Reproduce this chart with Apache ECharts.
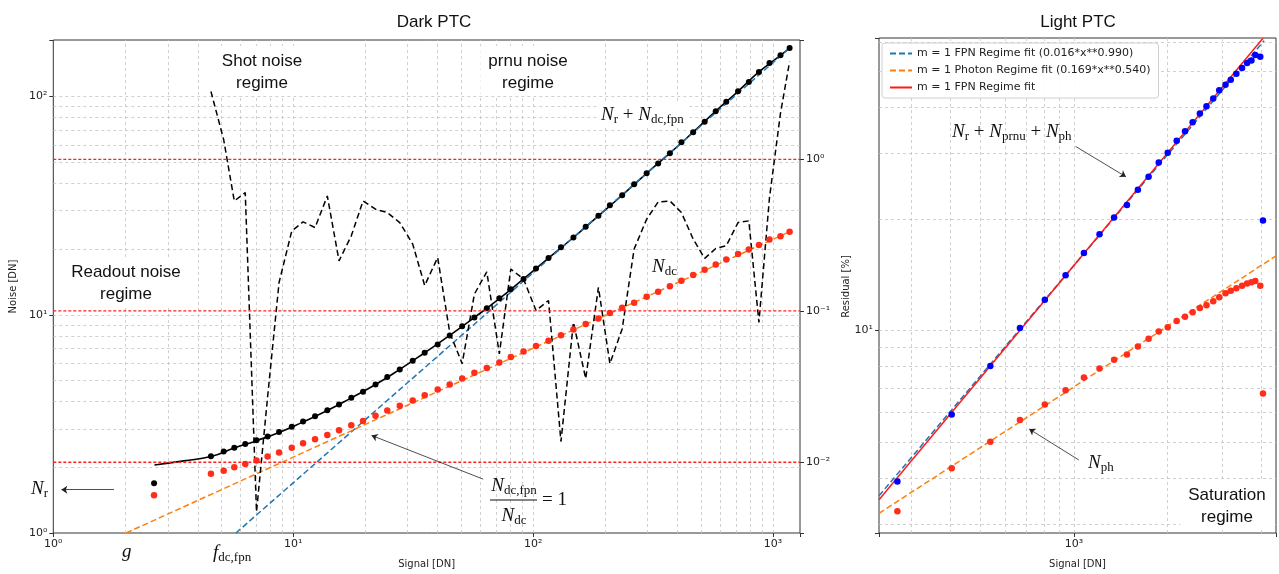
<!DOCTYPE html>
<html>
<head>
<meta charset="utf-8">
<script src="https://cdn.jsdelivr.net/npm/echarts@6/dist/echarts.min.js"></script>
<style>
html, body { margin: 0; padding: 0; background: #fff; }
#chart { width: 1279px; height: 574px; }
</style>
</head>
<body>
<div id="chart"></div>
<script>
// Dark PTC: signal steps and the noise
var darkSignal = [4.54, 5.13, 5.68, 6.31, 7.03, 7.82, 8.73, 9.86, 10.99, 12.33, 13.87, 15.52, 17.46, 19.54, 22.03, 24.66, 27.8, 31.48, 35.32, 40.0,
	44.9, 50.6, 56.9, 64.1, 72.3, 80.7, 91.2, 102.8, 115.9, 130.6, 147.2, 165.6, 187.1, 208.9, 235.0, 263.6, 297.2, 331.9, 371.5, 415.0,
	464.5, 518.8, 576.8, 638.3, 714.5, 792.5, 873.0, 966.1, 1074, 1172];
var darkNoise = [2.25, 2.36, 2.46, 2.56, 2.66, 2.77, 2.90, 3.07, 3.24, 3.43, 3.65, 3.88, 4.17, 4.44, 4.79, 5.18, 5.62, 6.15, 6.70, 7.31,
	8.04, 8.85, 9.72, 10.7, 11.9, 13.1, 14.6, 16.3, 18.2, 20.4, 22.6, 25.3, 28.4, 31.8, 35.3, 39.6, 44.5, 49.3, 55.0, 61.8,
	68.7, 76.6, 85.7, 94.6, 105.7, 116.7, 129.7, 142.6, 154.5, 166.8];
var darkDcNoise = [1.87, 1.93, 2.00, 2.07, 2.15, 2.24, 2.34, 2.46, 2.58, 2.69, 2.81, 2.96, 3.12, 3.26, 3.45, 3.64, 3.83, 4.05, 4.28, 4.54,
	4.79, 5.10, 5.42, 5.71, 6.04, 6.41, 6.78, 7.20, 7.61, 8.05, 8.55, 9.07, 9.62, 10.18, 10.77, 11.35, 12.1, 12.75, 13.5, 14.3,
	15.2, 16.1, 17.0, 17.9, 19.0, 19.9, 20.9, 22.1, 22.9, 24.0];
var darkResidual = [2.81, 1.35, 0.532, 0.604, 0.0047, 0.027, 0.154, 0.337, 0.387, 0.355, 0.574, 0.214, 0.313, 0.532, 0.469, 0.446, 0.383, 0.276, 0.147, 0.225,
	0.072, 0.0448, 0.129, 0.181, 0.052, 0.189, 0.162, 0.1005, 0.117, 0.0137, 0.084, 0.0357, 0.143, 0.0448, 0.076, 0.256, 0.403, 0.524, 0.532, 0.446,
	0.298, 0.222, 0.258, 0.269, 0.383, 0.393, 0.084, 0.558, 2.02, 4.43];
var readoutSignal = 2.63, readoutNoise = 1.69, readoutDcNoise = 1.49;

var darkFitX = [2.64, 3.5, 4.54, 5.68, 7.03, 8.73, 10.99, 13.87, 17.46, 22.03, 27.8, 35.32, 44.9, 56.9, 72.3, 91.2, 115.9, 147.2, 187.1, 235, 297.2, 371.5, 464.5, 576.8, 714.5, 873, 1074, 1172];
var darkFitY = [2.05, 2.14, 2.24, 2.45, 2.65, 2.89, 3.23, 3.64, 4.16, 4.79, 5.62, 6.70, 8.04, 9.72, 11.85, 14.6, 18.2, 22.6, 28.4, 35.3, 44.5, 55.0, 68.7, 85.7, 105.7, 129.7, 154.5, 166.8];
var fpnFitX = [5.77, 1172];
var fpnFitY = [1.0, 166.8];
var dcFitX = [2.01, 1172];
var dcFitY = [1.0, 24.0];
var residualLevels = [1, 0.1, 0.01];
var darkXRange = [1, 1295];

// Light PTC
var lightSignal = [270, 404, 538, 670, 806, 940, 1077, 1209, 1347, 1482, 1607, 1740, 1876, 2005, 2143, 2280, 2412, 2545, 2673, 2810,
	2938, 3078, 3201, 3336, 3480, 3612, 3731, 3839, 3983, 4064];
var lightTotal = [3.91, 5.93, 8.02, 10.15, 12.1, 14.1, 16.2, 18.2, 20.2, 21.8, 24.0, 26.0, 28.4, 30.2, 32.5, 34.5, 36.5, 38.5, 40.3, 42.3,
	44.5, 46.1, 47.5, 49.3, 51.1, 52.7, 53.6, 55.4, 54.8, 19.8];
var lightPhoton = [3.25, 4.25, 5.01, 5.73, 6.31, 6.90, 7.47, 7.89, 8.34, 8.62, 9.05, 9.50, 9.94, 10.2, 10.6, 10.9, 11.2, 11.5, 11.7, 12.0,
	12.3, 12.6, 12.8, 13.0, 13.2, 13.4, 13.5, 13.6, 13.2, 6.76];
var lightFpnFitX = [235.6, 4100];
var lightFpnFitY = [3.58, 60.6];
var lightPhFitX = [235.6, 4476];
var lightPhFitY = [3.21, 15.9];
var lightFitX = [235.6, 4064];
var lightFitY = [3.49, 61.5];

// grid line values (major + minor decades)
var darkXGrid = [2, 3, 4, 5, 6, 7, 8, 9, 10, 20, 30, 40, 50, 60, 70, 80, 90, 100, 200, 300, 400, 500, 600, 700, 800, 900, 1000];
var darkYGrid = [2, 3, 4, 5, 6, 7, 8, 9, 10, 20, 30, 40, 50, 60, 70, 80, 90, 100];
var lightXGrid = [300, 400, 500, 600, 700, 800, 900, 1000, 2000, 3000, 4000];
var lightYGrid = [3, 4, 5, 6, 7, 8, 9, 10, 20, 30, 40, 50, 60];

function pairs(xs, ys) {
	return xs.map(function (x, i) { return [x, ys[i]]; });
}

var supMap = { '-': '\u207b', '0': '\u2070', '1': '\u00b9', '2': '\u00b2', '3': '\u00b3' };
function sci(v) {
	var l = Math.log(v) / Math.LN10, e = Math.round(l);
	if (Math.abs(l - e) > 1e-6) return '';
	return '10' + String(e).split('').map(function (c) { return supMap[c]; }).join('');
}

var gridLine = { color: '#c4c4c4', type: [3, 3], width: 0.8 };
function gridSeries(xi, yi, xs, ys) {
	return {
		type: 'line', xAxisIndex: xi, yAxisIndex: yi, data: [[xs[0], ys[0]]], symbol: 'none', silent: true, z: 1,
		lineStyle: { opacity: 0 },
		markLine: {
			z: 1, silent: true, symbol: ['none', 'none'], label: { show: false }, lineStyle: gridLine, animation: false,
			data: xs.map(function (v) { return { xAxis: v }; }).concat(ys.map(function (v) { return { yAxis: v }; }))
		}
	};
}
function arrowSeries(xi, yi, list) {
	return {
		type: 'line', xAxisIndex: xi, yAxisIndex: yi, data: [list[0][0]], symbol: 'none', silent: true,
		lineStyle: { opacity: 0 },
		markLine: {
			z: 6, silent: true, symbol: ['none', 'arrow'], symbolSize: 6, label: { show: false }, animation: false,
			lineStyle: { color: '#222', type: 'solid', width: 0.8 },
			data: list.map(function (a) { return [{ coord: a[0] }, { coord: a[1] }]; })
		}
	};
}

var tickFont = { fontFamily: 'DejaVu Sans', fontSize: 11, color: '#222' };
var nameFont = { fontFamily: 'DejaVu Sans', fontSize: 10, color: '#222' };
function logAxis(extra) {
	var a = {
		type: 'log', logBase: 10,
		axisLine: { show: false },
		axisTick: { show: true, length: 4, lineStyle: { color: '#333' } },
		splitLine: { show: false },
		minorTick: { show: false },
		minorSplitLine: { show: false },
		axisLabel: Object.assign({ formatter: sci, margin: 6 }, tickFont),
		nameTextStyle: nameFont
	};
	return Object.assign(a, extra);
}

var mathRich = {
	n: { fontFamily: 'Liberation Serif', fontStyle: 'italic', fontSize: 19, lineHeight: 22, fill: '#111', color: '#111' },
	o: { fontFamily: 'Liberation Serif', fontSize: 19, lineHeight: 22, fill: '#111', color: '#111' },
	s: { fontFamily: 'Liberation Serif', fontSize: 13, lineHeight: 13, padding: [10, 0, 0, 0], fill: '#111', color: '#111' }
};
function mathText(x, y, text, align, bg) {
	var st = { text: text, rich: mathRich, align: align || 'left', verticalAlign: 'middle', fill: '#111' };
	if (bg) { st.backgroundColor = '#fff'; st.padding = [2, 4, 2, 4]; }
	return { type: 'text', x: x, y: y, z: 4, style: st };
}
function plainText(x, y, text, bg) {
	var st = { text: text, fontFamily: 'Liberation Sans', fontSize: 17, lineHeight: 22, fill: '#111', align: 'center', verticalAlign: 'top' };
	if (bg) { st.backgroundColor = '#fff'; st.padding = [4, 8, 2, 8]; }
	return { type: 'text', x: x, y: y, z: 4, style: st };
}

// red dotted residual reference levels, drawn as plain line series on the residual axis
var levelSeries = residualLevels.map(function (v) {
	return {
		name: 'level ' + v, type: 'line', xAxisIndex: 0, yAxisIndex: 1, symbol: 'none', silent: true, z: 5,
		lineStyle: { color: '#ff2020', type: [3, 2], width: 1.3, opacity: 1 },
		data: [[darkXRange[0], v], [darkXRange[1], v]]
	};
});

var myChart = echarts.init(document.getElementById('chart'));
var option = {
	animation: false,
	backgroundColor: '#fff',
	grid: [
		{ left: 52, top: 40, width: 748, height: 495, show: true, borderColor: '#333', borderWidth: 1, backgroundColor: 'transparent' },
		{ left: 879, top: 38, width: 399, height: 497, show: true, borderColor: '#333', borderWidth: 1, backgroundColor: 'transparent' }
	],
	xAxis: [
		logAxis({ gridIndex: 0, min: darkXRange[0], max: darkXRange[1], name: 'Signal [DN]', nameLocation: 'middle', nameGap: 26 }),
		logAxis({ gridIndex: 1, min: 235.6, max: 4476, name: 'Signal [DN]', nameLocation: 'middle', nameGap: 26 })
	],
	yAxis: [
		logAxis({ gridIndex: 0, min: 1, max: 181.6, name: 'Noise [DN]', nameLocation: 'middle', nameGap: 33 }),
		logAxis({ gridIndex: 0, position: 'right', min: 0.00341, max: 6.15, name: 'Residual [%]', nameLocation: 'middle', nameGap: 36 }),
		logAxis({ gridIndex: 1, min: 2.84, max: 61.6 })
	],
	legend: {
		left: 882, top: 43, orient: 'vertical', itemWidth: 22, itemHeight: 10, itemGap: 6,
		padding: [5, 8, 5, 7], backgroundColor: 'rgba(255,255,255,0.9)', borderColor: '#d0d0d0', borderWidth: 1, borderRadius: 3,
		textStyle: { fontFamily: 'DejaVu Sans', fontSize: 11, color: '#222' },
		data: ['m = 1 FPN Regime fit (0.016*x**0.990)', 'm = 1 Photon Regime fit (0.169*x**0.540)', 'm = 1 FPN Regime fit']
	},
	graphic: [
		{ type: 'text', x: 434, y: 22, z: 4, style: { text: 'Dark PTC', fontFamily: 'Liberation Sans', fontSize: 17, fill: '#111', align: 'center', verticalAlign: 'middle' } },
		{ type: 'text', x: 1078, y: 22, z: 4, style: { text: 'Light PTC', fontFamily: 'Liberation Sans', fontSize: 17, fill: '#111', align: 'center', verticalAlign: 'middle' } },
		plainText(262, 46, 'Shot noise\nregime', true),
		plainText(528, 46, 'prnu noise\nregime', true),
		plainText(126, 257, 'Readout noise\nregime', true),
		mathText(597, 115, '{n|N}{s|r}{o| + }{n|N}{s|dc,fpn}', 'left', true),
		mathText(652, 267, '{n|N}{s|dc}'),
		mathText(31, 489, '{n|N}{s|r}'),
		mathText(122, 552, '{n|g}'),
		mathText(213, 553, '{n|f}{s|dc,fpn}'),
		mathText(514, 486, '{n|N}{s|dc,fpn}', 'center'),
		{ type: 'line', z: 4, shape: { x1: 490, y1: 500, x2: 537, y2: 500 }, style: { stroke: '#111', lineWidth: 1.2 } },
		mathText(514, 516, '{n|N}{s|dc}', 'center'),
		mathText(542, 500, '{o|= 1}'),
		mathText(952, 132, '{n|N}{s|r}{o| + }{n|N}{s|prnu}{o| + }{n|N}{s|ph}'),
		mathText(1088, 463, '{n|N}{s|ph}'),
		plainText(1227, 480, 'Saturation\nregime', true)
	],
	series: [
		gridSeries(0, 0, darkXGrid, darkYGrid)
	].concat(levelSeries, [
		{
			name: 'dark total', type: 'scatter', xAxisIndex: 0, yAxisIndex: 0, symbolSize: 6, z: 3,
			itemStyle: { color: '#000', opacity: 1 },
			data: [[readoutSignal, readoutNoise]].concat(pairs(darkSignal, darkNoise))
		},
		{
			name: 'dark dc', type: 'scatter', xAxisIndex: 0, yAxisIndex: 0, symbolSize: 6.5, z: 3,
			itemStyle: { color: '#ff2d1a', opacity: 1 },
			data: [[readoutSignal, readoutDcNoise]].concat(pairs(darkSignal, darkDcNoise))
		},
		{
			name: 'dark fit', type: 'line', xAxisIndex: 0, yAxisIndex: 0, symbol: 'none', smooth: true, z: 3,
			lineStyle: { color: '#000', width: 1.6 }, data: pairs(darkFitX, darkFitY)
		},
		{
			name: 'dark fpn fit', type: 'line', xAxisIndex: 0, yAxisIndex: 0, symbol: 'none', z: 3,
			lineStyle: { color: '#1f77b4', width: 1.5, type: [6, 3] }, data: pairs(fpnFitX, fpnFitY)
		},
		{
			name: 'dark dc fit', type: 'line', xAxisIndex: 0, yAxisIndex: 0, symbol: 'none', z: 3,
			lineStyle: { color: '#ff7f0e', width: 1.5, type: [6, 3] }, data: pairs(dcFitX, dcFitY)
		},
		{
			name: 'residual', type: 'line', xAxisIndex: 0, yAxisIndex: 1, symbol: 'none', z: 3,
			lineStyle: { color: '#000', width: 1.5, type: [6, 3.5] }, data: pairs(darkSignal, darkResidual)
		},
		arrowSeries(0, 0, [[[1.79, 1.58], [1.08, 1.58]], [[61.9, 1.765], [21.2, 2.80]]]),

		gridSeries(1, 2, lightXGrid, lightYGrid),
		{
			name: 'm = 1 FPN Regime fit (0.016*x**0.990)', type: 'line', xAxisIndex: 1, yAxisIndex: 2, symbol: 'none', z: 2,
			lineStyle: { color: '#1f77b4', width: 1.5, type: [6, 3] }, itemStyle: { color: '#1f77b4', opacity: 0 }, data: pairs(lightFpnFitX, lightFpnFitY)
		},
		{
			name: 'm = 1 Photon Regime fit (0.169*x**0.540)', type: 'line', xAxisIndex: 1, yAxisIndex: 2, symbol: 'none', z: 2,
			lineStyle: { color: '#ff7f0e', width: 1.5, type: [6, 3] }, itemStyle: { color: '#ff7f0e', opacity: 0 }, data: pairs(lightPhFitX, lightPhFitY)
		},
		{
			name: 'm = 1 FPN Regime fit', type: 'line', xAxisIndex: 1, yAxisIndex: 2, symbol: 'none', z: 2,
			lineStyle: { color: '#ff1a1a', width: 1.5 }, itemStyle: { color: '#ff1a1a', opacity: 0 }, data: pairs(lightFitX, lightFitY)
		},
		{
			name: 'light total', type: 'scatter', xAxisIndex: 1, yAxisIndex: 2, symbolSize: 6.5, z: 3,
			itemStyle: { color: '#0000ff', opacity: 1 }, data: pairs(lightSignal, lightTotal)
		},
		{
			name: 'light photon', type: 'scatter', xAxisIndex: 1, yAxisIndex: 2, symbolSize: 6.5, z: 3,
			itemStyle: { color: '#ff2d1a', opacity: 1 }, data: pairs(lightSignal, lightPhoton)
		},
		arrowSeries(1, 2, [[[1012.5, 31.4], [1471, 26.0]], [[1037.6, 4.47], [717.5, 5.42]]])
	])
};
myChart.setOption(option);
</script>
</body>
</html>
